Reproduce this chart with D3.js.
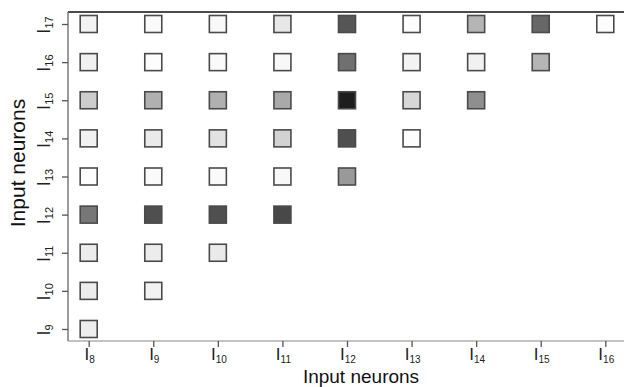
<!DOCTYPE html>
<html>
<head>
<meta charset="utf-8">
<script src="https://cdn.jsdelivr.net/npm/d3@7"></script>
<style>
  body { margin: 0; background: #fff; }
  svg { display: block; font-family: "Liberation Sans", Arial, sans-serif; }
</style>
</head>
<body>
<div id="chart"></div>
<script>
// input neuron indices on each axis
const colNeurons = [8, 9, 10, 11, 12, 13, 14, 15, 16];
const rowNeurons = [9, 10, 11, 12, 13, 14, 15, 16, 17];

// darkness of each square (0 = white, 1 = black), one array per row,
// listed from column I8 to the last column present in that row
const row17 = [0.05, 0.02, 0.03, 0.10, 0.71, 0.01, 0.31, 0.64, 0.01];
const row16 = [0.06, 0.01, 0.02, 0.03, 0.60, 0.05, 0.06, 0.31];
const row15 = [0.21, 0.33, 0.33, 0.36, 0.95, 0.17, 0.47];
const row14 = [0.06, 0.09, 0.12, 0.19, 0.74, 0.01];
const row13 = [0.01, 0.02, 0.02, 0.03, 0.43];
const row12 = [0.57, 0.74, 0.74, 0.77];
const row11 = [0.08, 0.08, 0.09];
const row10 = [0.08, 0.05];
const row9 = [0.07];

const rows = { 17: row17, 16: row16, 15: row15, 14: row14, 13: row13, 12: row12, 11: row11, 10: row10, 9: row9 };

const width = 624, height = 387;
const plotLeft = 68, plotTop = 12, plotBottom = 341, plotRight = 624;

const svg = d3.select("#chart").append("svg")
    .attr("width", width)
    .attr("height", height);

// scales
let x = d3.scalePoint().domain(colNeurons).range([88.7, 605.3]);
let y = d3.scalePoint().domain(rowNeurons).range([329, 24]);
let shade = d3.scaleLinear().domain([0, 1]).range(["#ffffff", "#111111"]);

// flatten rows into cells
let cells = [];
rowNeurons.forEach(function (r) {
    rows[r].forEach(function (v, i) {
        cells.push({ row: r, col: colNeurons[i], value: v });
    });
});

// frame lines
svg.append("line")
    .attr("x1", plotLeft).attr("x2", plotRight).attr("y1", plotTop).attr("y2", plotTop)
    .attr("stroke", "#111").attr("stroke-width", 1.6);
svg.append("line")
    .attr("x1", plotLeft).attr("x2", plotLeft).attr("y1", plotTop).attr("y2", plotBottom)
    .attr("stroke", "#666").attr("stroke-width", 1.3);
svg.append("line")
    .attr("x1", plotLeft).attr("x2", plotRight).attr("y1", plotBottom).attr("y2", plotBottom)
    .attr("stroke", "#888").attr("stroke-width", 1.2);

// axes (ticks only, labels added below with subscripts)
let xAxis = svg.append("g")
    .attr("transform", "translate(0," + plotBottom + ")")
    .call(d3.axisBottom(x).tickSize(6).tickSizeOuter(0).tickFormat(""));
let yAxis = svg.append("g")
    .attr("transform", "translate(" + plotLeft + ",0)")
    .call(d3.axisLeft(y).tickSize(6).tickSizeOuter(0).tickFormat(""));
[xAxis, yAxis].forEach(function (g) {
    g.select(".domain").remove();
    g.selectAll(".tick line").attr("stroke", "#555").attr("stroke-width", 1.3);
});

// x tick labels: I with subscript
colNeurons.forEach(function (n) {
    let t = svg.append("text")
        .attr("x", x(n) + 1)
        .attr("y", 360)
        .attr("text-anchor", "middle")
        .attr("fill", "#222")
        .style("font-size", "17px");
    t.append("tspan").text("I");
    t.append("tspan").attr("dy", 3).style("font-size", "10px").text(n);
});

// y tick labels, rotated
rowNeurons.forEach(function (n) {
    let t = svg.append("text")
        .attr("transform", "translate(50," + (y(n) + 1) + ") rotate(-90)")
        .attr("text-anchor", "middle")
        .attr("fill", "#222")
        .style("font-size", "18px");
    t.append("tspan").text("I");
    t.append("tspan").attr("dy", 3).style("font-size", "11px").text(n);
});

// squares
let size = 17;
svg.append("g").selectAll("rect")
    .data(cells)
    .join("rect")
    .attr("x", d => x(d.col) - size / 2)
    .attr("y", d => y(d.row) - size / 2)
    .attr("width", size)
    .attr("height", size)
    .attr("fill", d => shade(d.value))
    .attr("stroke", "#4a4a4a")
    .attr("stroke-width", 1.6);

// axis titles
svg.append("text")
    .attr("x", 361)
    .attr("y", 383)
    .attr("text-anchor", "middle")
    .attr("fill", "#111")
    .style("font-size", "19px")
    .text("Input neurons");
svg.append("text")
    .attr("transform", "translate(25,163) rotate(-90)")
    .attr("text-anchor", "middle")
    .attr("fill", "#111")
    .style("font-size", "21px")
    .text("Input neurons");
</script>
</body>
</html>
